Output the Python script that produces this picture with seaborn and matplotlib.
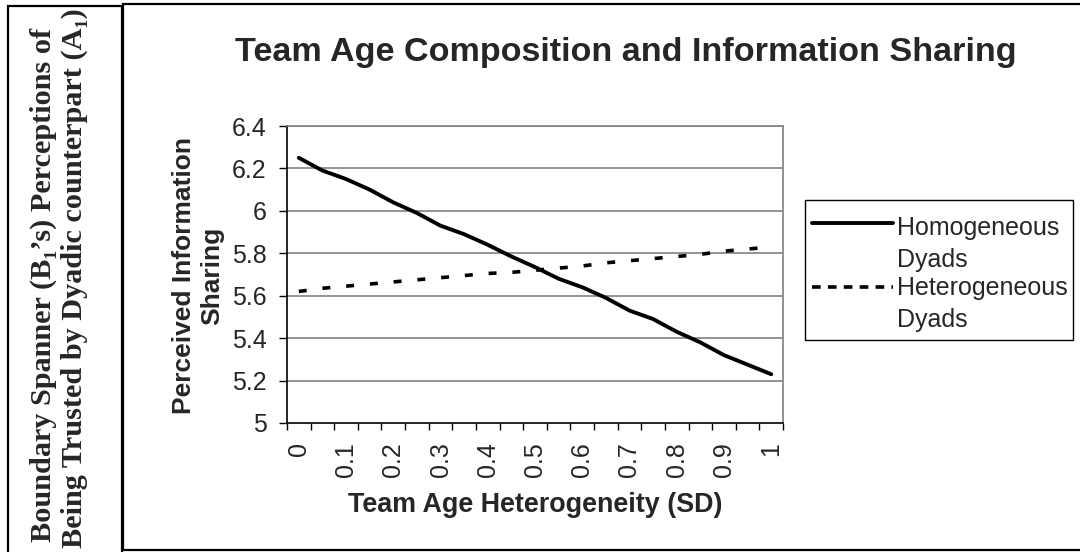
import matplotlib
matplotlib.use("Agg")
import matplotlib.pyplot as plt
import seaborn as sns
import pandas as pd
import numpy as np
from matplotlib.patches import Rectangle
from matplotlib.lines import Line2D

# values (21 category points, labelled every 0.1)
heterogeneity = ["0", "0.05", "0.1", "0.15", "0.2", "0.25", "0.3", "0.35", "0.4", "0.45", "0.5",
                 "0.55", "0.6", "0.65", "0.7", "0.75", "0.8", "0.85", "0.9", "0.95", "1"]
homogeneous = [6.25, 6.19, 6.15, 6.10, 6.04, 5.99, 5.93, 5.89, 5.84, 5.785, 5.735,
               5.68, 5.64, 5.59, 5.53, 5.49, 5.43, 5.38, 5.32, 5.275, 5.23]
heterogeneous = [5.62, 5.635, 5.645, 5.655, 5.665, 5.675, 5.685, 5.695, 5.705, 5.71, 5.72,
                 5.73, 5.74, 5.755, 5.765, 5.775, 5.785, 5.795, 5.81, 5.82, 5.83]
y_ticks = [5, 5.2, 5.4, 5.6, 5.8, 6, 6.2, 6.4]
y_tick_labels = ["5", "5.2", "5.4", "5.6", "5.8", "6", "6.2", "6.4"]
series_names = ["Homogeneous\nDyads", "Heterogeneous\nDyads"]

sns.set_style("white")
plt.rcParams["font.family"] = ["Liberation Sans", "DejaVu Sans"]

df = pd.DataFrame({"pos": np.arange(len(heterogeneity)),
                   "Homogeneous": homogeneous, "Heterogeneous": heterogeneous})

fig = plt.figure(figsize=(10.8, 5.52), dpi=100)
W, H = 1080, 552
ax = fig.add_axes([287 / W, 1 - 423 / H, 496 / W, 297 / H])

sns.lineplot(data=df, x="pos", y="Homogeneous", ax=ax, color="black", lw=2.8)
sns.lineplot(data=df, x="pos", y="Heterogeneous", ax=ax, color="black", lw=2.6)
ax.lines[1].set_dashes([2.2, 4.4])

ax.set_xlim(-0.5, len(heterogeneity) - 0.5)
ax.set_ylim(5, 6.4)
ax.set_yticks(y_ticks)
ax.set_yticklabels(y_tick_labels, fontsize=18)
for y in y_ticks[1:]:
    ax.axhline(y, color="#808080", lw=1.2, zorder=0)

ax.set_xticks(np.arange(-0.5, len(heterogeneity), 1.0))
ax.set_xticklabels([])
ax.set_xticks(np.arange(0, len(heterogeneity), 2), minor=True)
ax.set_xticklabels(["0", "0.1", "0.2", "0.3", "0.4", "0.5", "0.6", "0.7", "0.8", "0.9", "1"],
                   minor=True, rotation=90, fontsize=18)
ax.tick_params(axis="x", which="major", direction="out", length=5, width=1, color="black", bottom=True)
ax.tick_params(axis="x", which="minor", length=0, pad=14)
ax.tick_params(axis="y", direction="out", length=5.8, width=1, color="black", pad=9, left=True)

for side in ["top", "right"]:
    ax.spines[side].set_color("#808080")
    ax.spines[side].set_linewidth(1.2)
for side in ["left", "bottom"]:
    ax.spines[side].set_color("black")
    ax.spines[side].set_linewidth(1.2)

ax.set_xlabel("")
ax.set_ylabel("")
fig.text(535 / W, 1 - 505 / H, "Team Age Heterogeneity (SD)", fontsize=19.4, fontweight="bold",
         ha="center", va="center")
fig.text(198 / W, 1 - 276 / H, "Perceived Information\nSharing", fontsize=19, fontweight="bold",
         ha="center", va="center", rotation=90, linespacing=1.2)
fig.text(626 / W, 1 - 52 / H, "Team Age Composition and Information Sharing", fontsize=24.6,
         fontweight="bold", ha="center", va="center")

# legend drawn by hand so the handle sits on the first line of each label
fig.patches.append(Rectangle((805 / W, 1 - 340 / H), 268 / W, 140 / H, transform=fig.transFigure,
                             fill=False, edgecolor="black", lw=1.0))
fig.add_artist(Line2D([812 / W, 893 / W], [1 - 223 / H, 1 - 223 / H], transform=fig.transFigure,
                      color="black", lw=2.8))
fig.add_artist(Line2D([812 / W, 893 / W], [1 - 287 / H, 1 - 287 / H], transform=fig.transFigure,
                      color="black", lw=2.6, dashes=[2.4, 2.0]))
for name, base in zip(series_names, [235, 295]):
    for k, part in enumerate(name.split("\n")):
        fig.text(897 / W, 1 - (base + 32 * k) / H, part, fontsize=18, ha="left", va="baseline")

# outer frames
fig.patches.append(Rectangle((8 / W, -0.1), 114 / W, 1.1 - 6 / H, transform=fig.transFigure,
                             fill=False, edgecolor="black", lw=1.6))
fig.patches.append(Rectangle((123 / W, 1 - 550 / H), 1.0, 546 / H, transform=fig.transFigure,
                             fill=False, edgecolor="black", lw=1.6))

fig.text(43 / W, 1 - 285 / H, "Boundary Spanner (B\u2081\u2019s) Perceptions of",
         family=["Liberation Serif", "DejaVu Serif"], fontsize=21.8, fontweight="bold",
         rotation=90, ha="center", va="center")
fig.text(74 / W, 1 - 278 / H, "Being Trusted by Dyadic counterpart (A\u2081)",
         family=["Liberation Serif", "DejaVu Serif"], fontsize=21.8, fontweight="bold",
         rotation=90, ha="center", va="center")

fig.savefig("out.png", dpi=100)
